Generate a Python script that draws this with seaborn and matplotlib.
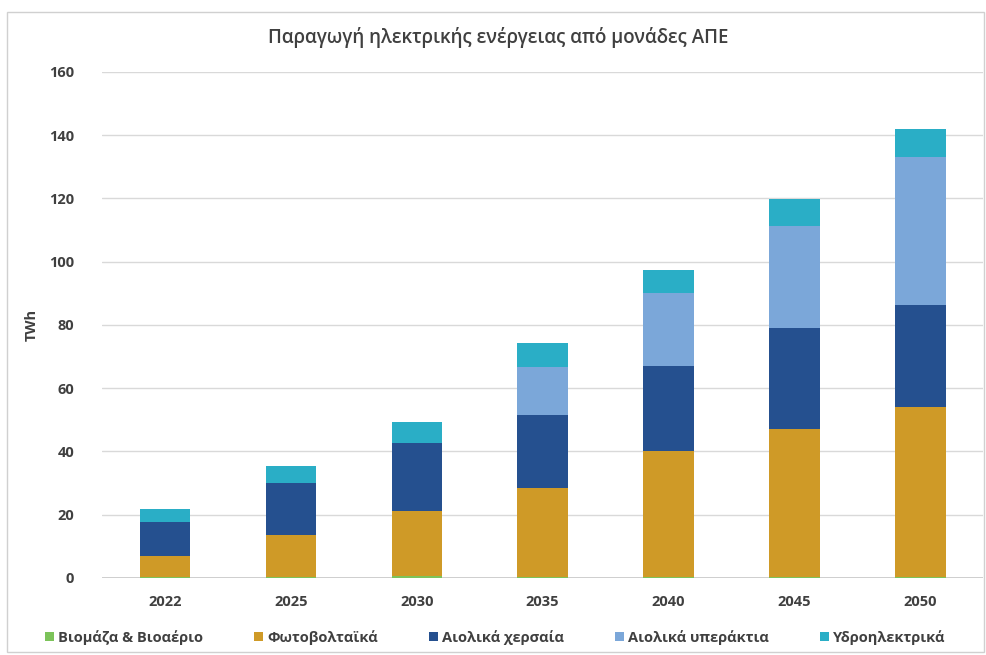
import matplotlib
matplotlib.use("Agg")
import matplotlib.pyplot as plt
import seaborn as sns
import pandas as pd
import numpy as np
from matplotlib.patches import Rectangle, Patch

years = ["2022", "2025", "2030", "2035", "2040", "2045", "2050"]
series_names = ["Βιομάζα & Βιοαέριο", "Φωτοβολταϊκά", "Αιολικά χερσαία",
                "Αιολικά υπεράκτια", "Υδροηλεκτρικά"]
biomass = [0.2, 0.4, 0.5, 0.4, 0.4, 0.4, 0.4]
solar = [6.8, 13.1, 20.8, 28.2, 39.9, 46.7, 53.6]
wind_onshore = [10.8, 16.4, 21.3, 22.9, 26.8, 31.8, 32.3]
wind_offshore = [0.0, 0.0, 0.0, 15.3, 23.1, 32.3, 46.9]
hydro = [4.0, 5.6, 6.7, 7.4, 7.2, 8.6, 8.8]
yticks = [0, 20, 40, 60, 80, 100, 120, 140, 160]

colors = ["#7cc35a", "#cf9a27", "#25508f", "#7ba7d9", "#2aaec6"]

sns.set_theme(style="white")
plt.rcParams["font.family"] = ["Open Sans", "DejaVu Sans"]

fig = plt.figure(figsize=(9.87, 6.55), dpi=100)
ax = fig.add_axes([0.1033, 0.1176, 0.893, 0.7725])

values = [biomass, solar, wind_onshore, wind_offshore, hydro]
cum = np.cumsum(np.array(values), axis=0)

# draw from top of stack down so lower segments overlay
for i in range(len(series_names) - 1, -1, -1):
    df = pd.DataFrame({"year": years, "value": cum[i]})
    sns.barplot(data=df, x="year", y="value", color=colors[i], width=0.40,
                saturation=1, ax=ax, zorder=3, edgecolor="none", linewidth=0)

ax.set_ylim(0, 160)
ax.set_xlim(-0.5, 6.5)
ax.set_yticks(yticks)
ax.set_yticklabels([str(t) for t in yticks])
ax.yaxis.grid(True, color="#d9d9d9", linewidth=1.0, zorder=0)
ax.axhline(0, color="#c8c8c8", linewidth=1.2, zorder=1)
ax.set_axisbelow(True)
for s in ax.spines.values():
    s.set_visible(False)
ax.tick_params(axis="y", length=0, pad=20, labelsize=10.5, labelcolor="#404040")
ax.tick_params(axis="x", length=0, pad=12, labelsize=10.5, labelcolor="#404040")
for lab in ax.get_xticklabels() + ax.get_yticklabels():
    lab.set_fontweight("bold")
ax.set_xlabel("")
ax.set_ylabel("TWh", fontsize=10.5, color="#404040", fontweight="bold")
ax.yaxis.set_label_coords(-0.072, 0.5)

fig.text(0.505, 0.942, "Παραγωγή ηλεκτρικής ενέργειας από μονάδες ΑΠΕ",
         ha="center", va="center", fontsize=13.5, color="#404040", fontweight="semibold")

handles = [Patch(facecolor=c, edgecolor="none") for c in colors]
fig.legend(handles, series_names, loc="center", bbox_to_anchor=(0.502, 0.027),
           ncol=5, frameon=False, handlelength=0.6, handleheight=0.6,
           handletextpad=0.3, columnspacing=3.5,
           prop={"weight": "bold", "size": 10.5})
for t in fig.legends[0].get_texts():
    t.set_color("#404040")

fig.patches.append(Rectangle((0.007, 0.005), 0.99, 0.977, transform=fig.transFigure,
                             fill=False, edgecolor="#d0d0d0", linewidth=1.0))

fig.savefig("out.png", dpi=100)
